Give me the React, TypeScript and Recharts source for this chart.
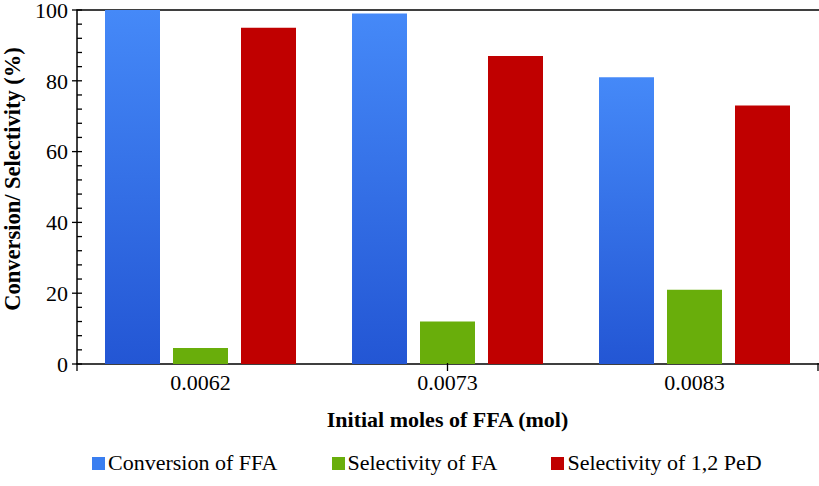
import { BarChart, Bar, XAxis, YAxis, Legend, ReferenceArea } from "recharts";

const categories = ["0.0062", "0.0073", "0.0083"];
const conversionFFA = [100, 99, 81];
const selectivityFA = [4.5, 12, 21];
const selectivityPeD = [95, 87, 73];
const yTicks = [0, 4, 8, 12, 16, 20, 24, 28, 32, 36, 40, 44, 48, 52, 56, 60, 64, 68, 72, 76, 80, 84, 88, 92, 96, 100];
const bandEdges = [0, 1, 2, 3];

const series = [
  { key: "conv", name: "Conversion of FFA", fill: "url(#blueGrad)", swatch: "#3a7ef0" },
  { key: "selFA", name: "Selectivity of FA", fill: "#69ae0b", swatch: "#69ae0b" },
  { key: "selPeD", name: "Selectivity of 1,2 PeD", fill: "#c00000", swatch: "#c00000" },
];

const data = categories.map((c, i) => ({
  cat: c,
  conv: conversionFFA[i],
  selFA: selectivityFA[i],
  selPeD: selectivityPeD[i],
}));

const FONT = "'Liberation Serif', 'Times New Roman', serif";
const TICK_MARGIN = 8;

// minor ticks point inward, major ticks cross the axis
function YTick(props: any) {
  const { x, y, payload } = props;
  const axisX = Number(x) + TICK_MARGIN;
  const yy = Number(y);
  const major = payload.value % 20 === 0;
  if (!major) {
    return <rect x={axisX} y={yy - 0.65} width={5} height={1.3} fill="#000" />;
  }
  return (
    <g>
      <rect x={axisX - 5} y={yy - 0.65} width={10} height={1.3} fill="#000" />
      <text x={axisX - 9} y={yy} dy="0.35em" textAnchor="end" fontSize={22} fontFamily={FONT} fill="#000">
        {payload.value}
      </text>
    </g>
  );
}

// category boundary ticks below the x axis
function EdgeTick(props: any) {
  const { x, y } = props;
  return <rect x={Number(x) - 0.65} y={Number(y) - 1} width={1.3} height={8} fill="#000" />;
}

function YLabel() {
  const cx = 12;
  const cy = 179;
  return (
    <text
      x={cx}
      y={cy}
      transform={`rotate(-90 ${cx} ${cy})`}
      textAnchor="middle"
      dy="0.35em"
      fontSize={22.5}
      fontWeight="bold"
      fontFamily={FONT}
      fill="#000"
    >
      Conversion/ Selectivity (%)
    </text>
  );
}

function LegendContent() {
  return (
    <div
      style={{
        display: "flex",
        paddingLeft: 92,
        paddingTop: 22,
        fontFamily: FONT,
        fontSize: 22,
        lineHeight: "22px",
        color: "#000",
      }}
    >
      {series.map((s, i) => (
        <div key={s.key} style={{ display: "flex", alignItems: "center", marginRight: i < series.length - 1 ? 54 : 0 }}>
          <span style={{ width: 13, height: 13, background: s.swatch, display: "inline-block", marginRight: 3 }} />
          <span>{s.name}</span>
        </div>
      ))}
    </div>
  );
}

export default function App() {
  return (
    <div style={{ position: "absolute", left: 0, top: 0, background: "#fff" }}>
      <BarChart
        width={819}
        height={486}
        data={data}
        margin={{ top: 10, right: 1, left: 0, bottom: 0 }}
        barCategoryGap={28}
        barGap={13}
      >
        <defs>
          <linearGradient id="blueGrad" x1="0" y1="0" x2="0" y2="1">
            <stop offset="0%" stopColor="#4589f8" />
            <stop offset="100%" stopColor="#2356d4" />
          </linearGradient>
        </defs>
        <XAxis
          xAxisId="b"
          type="number"
          domain={[0, 3]}
          ticks={bandEdges}
          interval={0}
          height={1}
          tickSize={0}
          tickMargin={0}
          tick={<EdgeTick />}
          tickLine={false}
          axisLine={false}
        />
        <XAxis
          xAxisId="c"
          dataKey="cat"
          height={65}
          axisLine={false}
          tickLine={false}
          tickSize={0}
          tickMargin={9}
          tick={{ fontSize: 22, fontFamily: FONT, fill: "#000" }}
          label={{
            value: "Initial moles of FFA (mol)",
            position: "insideBottom",
            offset: 3,
            style: { fontSize: 22, fontWeight: "bold", fontFamily: FONT, fill: "#000" },
          }}
        />
        <YAxis
          domain={[0, 100]}
          ticks={yTicks}
          interval={0}
          width={77}
          tickSize={0}
          tickMargin={TICK_MARGIN}
          tick={<YTick />}
          tickLine={false}
          axisLine={false}
          label={<YLabel />}
        />
        <Legend verticalAlign="bottom" height={56} content={<LegendContent />} />
        {series.map((s) => (
          <Bar key={s.key} xAxisId="c" dataKey={s.key} name={s.name} fill={s.fill} isAnimationActive={false} />
        ))}
        <ReferenceArea
          xAxisId="b"
          x1={0}
          x2={3}
          y1={0}
          y2={100}
          fill="none"
          fillOpacity={0}
          stroke="#000"
          strokeWidth={1.5}
          strokeOpacity={1}
          ifOverflow="visible"
        />
      </BarChart>
    </div>
  );
}
